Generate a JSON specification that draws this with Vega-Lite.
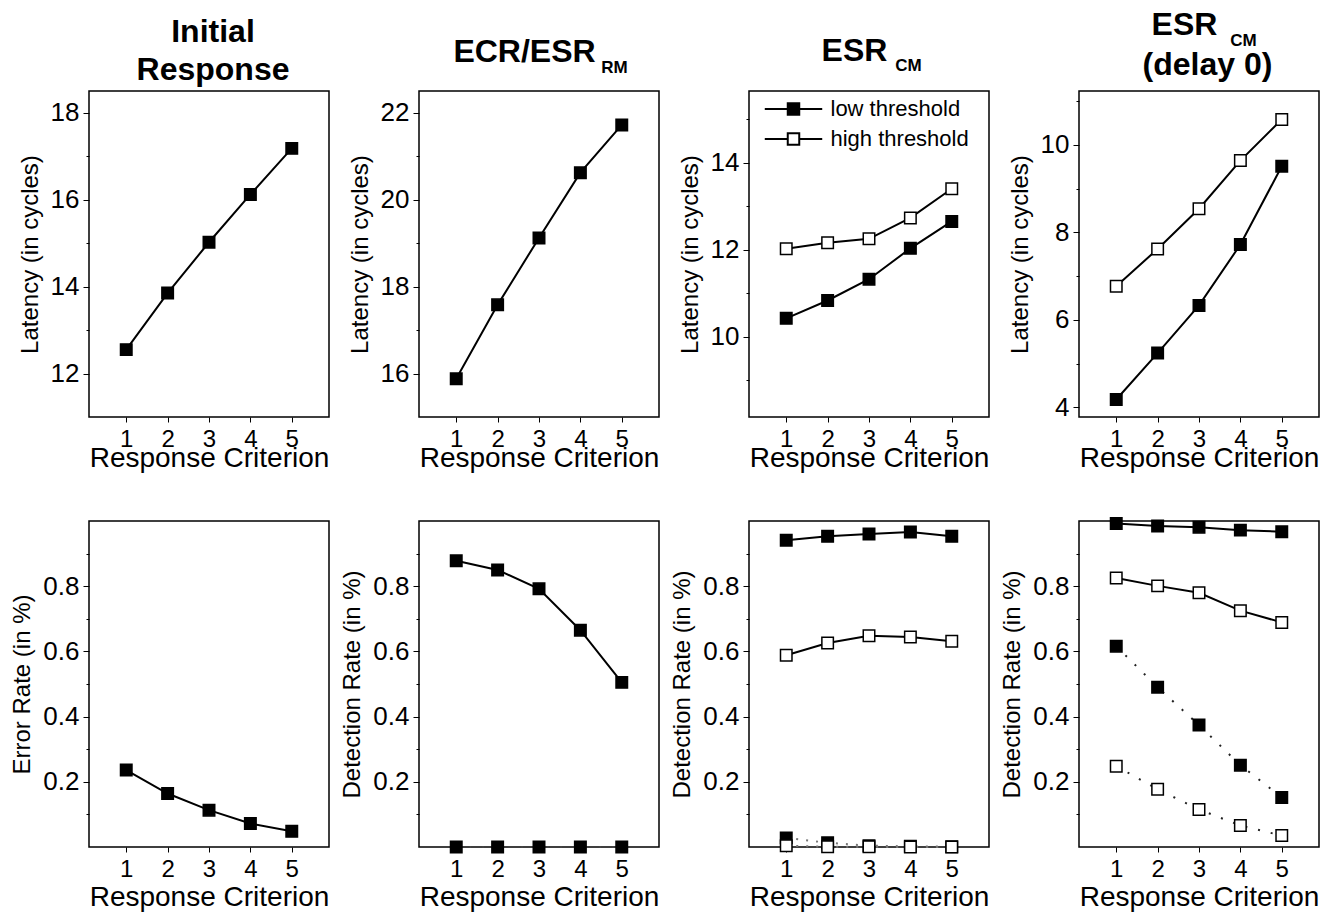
{
  "$schema": "https://vega.github.io/schema/vega-lite/v6.json",
  "background": "white",
  "padding": {"left": 10, "top": 8, "right": 5, "bottom": 5},
  "columns": 4,
  "bounds": "flush",
  "spacing": {"row": 104, "column": 90},
  "resolve": {"scale": {"fill": "independent"}, "legend": {"fill": "independent"}},
  "config": {
    "font": "Liberation Sans",
    "view": {"stroke": "black", "strokeWidth": 1.5},
    "axis": {"domain": false, "grid": false, "tickColor": "black", "tickWidth": 1, "labelColor": "black", "titleColor": "black", "labelFont": "Liberation Sans", "titleFont": "Liberation Sans", "titleFontWeight": "normal", "labelOverlap": false, "titleLimit": 400, "labelLimit": 200},
    "axisX": {"labelFontSize": 24, "titleFontSize": 28, "tickSize": 5, "labelPadding": 5, "labelAngle": 0, "labelFlush": false},
    "axisY": {"labelFontSize": 26, "titleFontSize": 24, "labelPadding": 4, "titlePadding": 8},
    "title": {"font": "Liberation Sans", "fontSize": 32, "fontWeight": "bold", "color": "black", "anchor": "middle", "frame": "group", "subtitleFont": "Liberation Sans", "subtitleFontSize": 17, "subtitleFontWeight": "bold", "subtitleColor": "black"}
  },
  "concat": [
    {
      "width": 240, "height": 326,
      "title": {"text": ["Initial", "Response"], "lineHeight": 38, "offset": 4, "dx": 4},
      "data": {"values": [
        {"crit": 1, "value": 12.55, "series": "low threshold", "kind": "latency"},
        {"crit": 2, "value": 13.85, "series": "low threshold", "kind": "latency"},
        {"crit": 3, "value": 15.02, "series": "low threshold", "kind": "latency"},
        {"crit": 4, "value": 16.12, "series": "low threshold", "kind": "latency"},
        {"crit": 5, "value": 17.18, "series": "low threshold", "kind": "latency"}
      ]},
      "encoding": {
        "x": {"field": "crit", "type": "quantitative", "scale": {"domain": [0.1, 5.9], "nice": false, "zero": false}, "axis": {"values": [1, 2, 3, 4, 5], "title": "Response Criterion", "titlePadding": -7}},
        "y": {"field": "value", "type": "quantitative", "scale": {"domain": [11, 18.5], "nice": false, "zero": false}, "axis": {"title": "Latency (in cycles)", "values": [12, 13, 14, 15, 16, 17, 18], "labelExpr": "datum.value % 2 == 0 ? datum.label : ''", "tickSize": {"condition": {"test": "datum.value % 2 == 0", "value": 6}, "value": 3}}}
      },
      "layer": [
        {"mark": {"type": "line", "color": "black", "strokeWidth": 2}, "encoding": {"detail": {"field": "series"}}},
        {"mark": {"type": "point", "shape": "square", "size": 132, "filled": true, "stroke": "black", "strokeWidth": 1.5, "opacity": 1}, "encoding": {"fill": {"field": "series", "type": "nominal", "scale": {"domain": ["low threshold", "high threshold"], "range": ["black", "white"]}, "legend": null}}},
        {"data": {"values": [{}]}, "mark": {"type": "text", "text": "A", "fontSize": 30, "fontWeight": "bold", "align": "left", "baseline": "alphabetic", "color": "black"}, "encoding": {"x": {"datum": 0.25, "type": "quantitative"}, "y": {"datum": 11.2, "type": "quantitative"}}}
      ]
    },
    {
      "width": 240, "height": 326,
      "title": {"text": "ECR/ESR", "subtitle": "\u2800\u2800\u2800\u2800\u2800\u2800\u2800\u2800\u2800\u2800\u2800\u2800\u2800\u2800\u2800RM", "subtitlePadding": -9, "offset": 14, "dx": -14.5},
      "data": {"values": [
        {"crit": 1, "value": 15.88, "series": "low threshold", "kind": "latency"},
        {"crit": 2, "value": 17.58, "series": "low threshold", "kind": "latency"},
        {"crit": 3, "value": 19.12, "series": "low threshold", "kind": "latency"},
        {"crit": 4, "value": 20.62, "series": "low threshold", "kind": "latency"},
        {"crit": 5, "value": 21.72, "series": "low threshold", "kind": "latency"}
      ]},
      "encoding": {
        "x": {"field": "crit", "type": "quantitative", "scale": {"domain": [0.1, 5.9], "nice": false, "zero": false}, "axis": {"values": [1, 2, 3, 4, 5], "title": "Response Criterion", "titlePadding": -7}},
        "y": {"field": "value", "type": "quantitative", "scale": {"domain": [15, 22.5], "nice": false, "zero": false}, "axis": {"title": "Latency (in cycles)", "values": [16, 17, 18, 19, 20, 21, 22], "labelExpr": "datum.value % 2 == 0 ? datum.label : ''", "tickSize": {"condition": {"test": "datum.value % 2 == 0", "value": 6}, "value": 3}}}
      },
      "layer": [
        {"mark": {"type": "line", "color": "black", "strokeWidth": 2}, "encoding": {"detail": {"field": "series"}}},
        {"mark": {"type": "point", "shape": "square", "size": 132, "filled": true, "stroke": "black", "strokeWidth": 1.5, "opacity": 1}, "encoding": {"fill": {"field": "series", "type": "nominal", "scale": {"domain": ["low threshold", "high threshold"], "range": ["black", "white"]}, "legend": null}}},
        {"data": {"values": [{}]}, "mark": {"type": "text", "text": "C", "fontSize": 30, "fontWeight": "bold", "align": "left", "baseline": "alphabetic", "color": "black"}, "encoding": {"x": {"datum": 0.197, "type": "quantitative"}, "y": {"datum": 15.2, "type": "quantitative"}}}
      ]
    },
    {
      "width": 240, "height": 326,
      "title": {"text": "ESR", "subtitle": "\u2800\u2800\u2800\u2800\u2800\u2800\u2800\u2800\u2800CM", "subtitlePadding": -9.5, "offset": 16, "dx": -14.5},
      "data": {"values": [
        {"crit": 1, "value": 10.42, "series": "low threshold", "kind": "latency"},
        {"crit": 2, "value": 10.83, "series": "low threshold", "kind": "latency"},
        {"crit": 3, "value": 11.32, "series": "low threshold", "kind": "latency"},
        {"crit": 4, "value": 12.03, "series": "low threshold", "kind": "latency"},
        {"crit": 5, "value": 12.65, "series": "low threshold", "kind": "latency"},
        {"crit": 1, "value": 12.02, "series": "high threshold", "kind": "latency"},
        {"crit": 2, "value": 12.16, "series": "high threshold", "kind": "latency"},
        {"crit": 3, "value": 12.25, "series": "high threshold", "kind": "latency"},
        {"crit": 4, "value": 12.73, "series": "high threshold", "kind": "latency"},
        {"crit": 5, "value": 13.40, "series": "high threshold", "kind": "latency"}
      ]},
      "encoding": {
        "x": {"field": "crit", "type": "quantitative", "scale": {"domain": [0.1, 5.9], "nice": false, "zero": false}, "axis": {"values": [1, 2, 3, 4, 5], "title": "Response Criterion", "titlePadding": -7}},
        "y": {"field": "value", "type": "quantitative", "scale": {"domain": [8.15, 15.65], "nice": false, "zero": false}, "axis": {"title": "Latency (in cycles)", "values": [9, 10, 11, 12, 13, 14, 15], "labelExpr": "datum.value % 2 == 0 ? datum.label : ''", "tickSize": {"condition": {"test": "datum.value % 2 == 0", "value": 6}, "value": 3}}}
      },
      "layer": [
        {"mark": {"type": "line", "color": "black", "strokeWidth": 2}, "encoding": {"detail": {"field": "series"}}},
        {"mark": {"type": "point", "shape": "square", "size": 132, "filled": true, "stroke": "black", "strokeWidth": 1.5, "opacity": 1}, "encoding": {"fill": {"field": "series", "type": "nominal", "scale": {"domain": ["low threshold", "high threshold"], "range": ["black", "white"]}, "legend": {"title": null, "orient": "top-left", "offset": 0, "padding": 7, "symbolType": "M-5,0H-1M1,0H5M-1,-1H1V1H-1Z", "symbolSize": 132, "symbolStrokeColor": "black", "symbolStrokeWidth": 2, "symbolOffset": 26.5, "labelOffset": 26, "labelFontSize": 22, "labelFont": "Liberation Sans", "labelColor": "black", "rowPadding": 8, "labelLimit": 400}}}},
        {"data": {"values": [{}]}, "mark": {"type": "text", "text": "E", "fontSize": 30, "fontWeight": "bold", "align": "left", "baseline": "alphabetic", "color": "black"}, "encoding": {"x": {"datum": 0.27, "type": "quantitative"}, "y": {"datum": 8.35, "type": "quantitative"}}}
      ]
    },
    {
      "width": 240, "height": 326,
      "title": {"text": ["ESR\u2800\u2800", "(delay 0)"], "lineHeight": 40, "subtitle": "\u2800\u2800\u2800\u2800\u2800\u2800CM", "subtitlePadding": -49.4, "offset": 6, "dx": 8.5},
      "data": {"values": [
        {"crit": 1, "value": 4.18, "series": "low threshold", "kind": "latency"},
        {"crit": 2, "value": 5.24, "series": "low threshold", "kind": "latency"},
        {"crit": 3, "value": 6.33, "series": "low threshold", "kind": "latency"},
        {"crit": 4, "value": 7.72, "series": "low threshold", "kind": "latency"},
        {"crit": 5, "value": 9.51, "series": "low threshold", "kind": "latency"},
        {"crit": 1, "value": 6.77, "series": "high threshold", "kind": "latency"},
        {"crit": 2, "value": 7.62, "series": "high threshold", "kind": "latency"},
        {"crit": 3, "value": 8.54, "series": "high threshold", "kind": "latency"},
        {"crit": 4, "value": 9.64, "series": "high threshold", "kind": "latency"},
        {"crit": 5, "value": 10.58, "series": "high threshold", "kind": "latency"}
      ]},
      "encoding": {
        "x": {"field": "crit", "type": "quantitative", "scale": {"domain": [0.1, 5.9], "nice": false, "zero": false}, "axis": {"values": [1, 2, 3, 4, 5], "title": "Response Criterion", "titlePadding": -7}},
        "y": {"field": "value", "type": "quantitative", "scale": {"domain": [3.78, 11.23], "nice": false, "zero": false}, "axis": {"title": "Latency (in cycles)", "values": [4, 5, 6, 7, 8, 9, 10, 11], "labelExpr": "datum.value % 2 == 0 ? datum.label : ''", "tickSize": {"condition": {"test": "datum.value % 2 == 0", "value": 6}, "value": 3}}}
      },
      "layer": [
        {"mark": {"type": "line", "color": "black", "strokeWidth": 2}, "encoding": {"detail": {"field": "series"}}},
        {"mark": {"type": "point", "shape": "square", "size": 132, "filled": true, "stroke": "black", "strokeWidth": 1.5, "opacity": 1}, "encoding": {"fill": {"field": "series", "type": "nominal", "scale": {"domain": ["low threshold", "high threshold"], "range": ["black", "white"]}, "legend": null}}},
        {"data": {"values": [{}]}, "mark": {"type": "text", "text": "G", "fontSize": 30, "fontWeight": "bold", "align": "left", "baseline": "alphabetic", "color": "black"}, "encoding": {"x": {"datum": 0.18, "type": "quantitative"}, "y": {"datum": 4.01, "type": "quantitative"}}}
      ]
    },
    {
      "width": 240, "height": 326,
      "data": {"values": [
        {"crit": 1, "value": 0.236, "series": "low threshold", "kind": "error"},
        {"crit": 2, "value": 0.164, "series": "low threshold", "kind": "error"},
        {"crit": 3, "value": 0.113, "series": "low threshold", "kind": "error"},
        {"crit": 4, "value": 0.072, "series": "low threshold", "kind": "error"},
        {"crit": 5, "value": 0.048, "series": "low threshold", "kind": "error"}
      ]},
      "encoding": {
        "x": {"field": "crit", "type": "quantitative", "scale": {"domain": [0.1, 5.9], "nice": false, "zero": false}, "axis": {"values": [1, 2, 3, 4, 5], "title": "Response Criterion", "titlePadding": 2}},
        "y": {"field": "value", "type": "quantitative", "scale": {"domain": [0, 1], "nice": false, "zero": false}, "axis": {"title": "Error Rate (in %)", "values": [0.1, 0.2, 0.3, 0.4, 0.5, 0.6, 0.7, 0.8, 0.9], "labelExpr": "round(datum.value * 10) % 2 == 0 ? datum.label : ''", "tickSize": {"condition": {"test": "round(datum.value * 10) % 2 == 0", "value": 6}, "value": 3}}}
      },
      "layer": [
        {"mark": {"type": "line", "color": "black", "strokeWidth": 2}, "encoding": {"detail": {"field": "series"}}},
        {"mark": {"type": "point", "shape": "square", "size": 132, "filled": true, "stroke": "black", "strokeWidth": 1.5, "opacity": 1}, "encoding": {"fill": {"field": "series", "type": "nominal", "scale": {"domain": ["low threshold", "high threshold"], "range": ["black", "white"]}, "legend": null}}},
        {"data": {"values": [{}]}, "mark": {"type": "text", "text": "B", "fontSize": 30, "fontWeight": "bold", "align": "left", "baseline": "alphabetic", "color": "black"}, "encoding": {"x": {"datum": 0.25, "type": "quantitative"}, "y": {"datum": 0.027, "type": "quantitative"}}}
      ]
    },
    {
      "width": 240, "height": 326,
      "data": {"values": [
        {"crit": 1, "value": 0.878, "series": "low threshold", "kind": "hits"},
        {"crit": 2, "value": 0.850, "series": "low threshold", "kind": "hits"},
        {"crit": 3, "value": 0.792, "series": "low threshold", "kind": "hits"},
        {"crit": 4, "value": 0.665, "series": "low threshold", "kind": "hits"},
        {"crit": 5, "value": 0.505, "series": "low threshold", "kind": "hits"},
        {"crit": 1, "value": 0.0, "series": "low threshold", "kind": "FA"},
        {"crit": 2, "value": 0.0, "series": "low threshold", "kind": "FA"},
        {"crit": 3, "value": 0.0, "series": "low threshold", "kind": "FA"},
        {"crit": 4, "value": 0.0, "series": "low threshold", "kind": "FA"},
        {"crit": 5, "value": 0.0, "series": "low threshold", "kind": "FA"}
      ]},
      "encoding": {
        "x": {"field": "crit", "type": "quantitative", "scale": {"domain": [0.1, 5.9], "nice": false, "zero": false}, "axis": {"values": [1, 2, 3, 4, 5], "title": "Response Criterion", "titlePadding": 2}},
        "y": {"field": "value", "type": "quantitative", "scale": {"domain": [0, 1], "nice": false, "zero": false}, "axis": {"title": "Detection Rate (in %)", "values": [0.1, 0.2, 0.3, 0.4, 0.5, 0.6, 0.7, 0.8, 0.9], "labelExpr": "round(datum.value * 10) % 2 == 0 ? datum.label : ''", "tickSize": {"condition": {"test": "round(datum.value * 10) % 2 == 0", "value": 6}, "value": 3}}}
      },
      "layer": [
        {"transform": [{"filter": "datum.kind == 'hits'"}], "mark": {"type": "line", "color": "black", "strokeWidth": 2}, "encoding": {"detail": {"field": "series"}}},
        {"transform": [{"filter": "datum.kind == 'FA'"}], "mark": {"type": "line", "color": "#444444", "strokeWidth": 2, "strokeDash": [2, 11]}, "encoding": {"detail": {"field": "series"}}},
        {"mark": {"type": "point", "shape": "square", "size": 132, "filled": true, "stroke": "black", "strokeWidth": 1.5, "opacity": 1}, "encoding": {"fill": {"field": "series", "type": "nominal", "scale": {"domain": ["low threshold", "high threshold"], "range": ["black", "white"]}, "legend": null}}},
        {"data": {"values": [{}]}, "mark": {"type": "text", "text": "D", "fontSize": 30, "fontWeight": "bold", "align": "left", "baseline": "alphabetic", "color": "black"}, "encoding": {"x": {"datum": 0.276, "type": "quantitative"}, "y": {"datum": 0.027, "type": "quantitative"}}},
        {"data": {"values": [{}]}, "mark": {"type": "text", "text": "hits", "fontSize": 27, "align": "left", "baseline": "alphabetic", "color": "black"}, "encoding": {"x": {"datum": 4.28, "type": "quantitative"}, "y": {"datum": 0.819, "type": "quantitative"}}},
        {"data": {"values": [{}]}, "mark": {"type": "text", "text": "FA", "fontSize": 27, "align": "left", "baseline": "alphabetic", "color": "black"}, "encoding": {"x": {"datum": 1.40, "type": "quantitative"}, "y": {"datum": 0.062, "type": "quantitative"}}}
      ]
    },
    {
      "width": 240, "height": 326,
      "data": {"values": [
        {"crit": 1, "value": 0.941, "series": "low threshold", "kind": "hits"},
        {"crit": 2, "value": 0.953, "series": "low threshold", "kind": "hits"},
        {"crit": 3, "value": 0.960, "series": "low threshold", "kind": "hits"},
        {"crit": 4, "value": 0.966, "series": "low threshold", "kind": "hits"},
        {"crit": 5, "value": 0.953, "series": "low threshold", "kind": "hits"},
        {"crit": 1, "value": 0.028, "series": "low threshold", "kind": "FA"},
        {"crit": 2, "value": 0.013, "series": "low threshold", "kind": "FA"},
        {"crit": 3, "value": 0.004, "series": "low threshold", "kind": "FA"},
        {"crit": 4, "value": 0.002, "series": "low threshold", "kind": "FA"},
        {"crit": 5, "value": 0.001, "series": "low threshold", "kind": "FA"},
        {"crit": 1, "value": 0.588, "series": "high threshold", "kind": "hits"},
        {"crit": 2, "value": 0.626, "series": "high threshold", "kind": "hits"},
        {"crit": 3, "value": 0.648, "series": "high threshold", "kind": "hits"},
        {"crit": 4, "value": 0.644, "series": "high threshold", "kind": "hits"},
        {"crit": 5, "value": 0.631, "series": "high threshold", "kind": "hits"},
        {"crit": 1, "value": 0.004, "series": "high threshold", "kind": "FA"},
        {"crit": 2, "value": 0.001, "series": "high threshold", "kind": "FA"},
        {"crit": 3, "value": 0.0005, "series": "high threshold", "kind": "FA"},
        {"crit": 4, "value": 0.0, "series": "high threshold", "kind": "FA"},
        {"crit": 5, "value": 0.0, "series": "high threshold", "kind": "FA"}
      ]},
      "encoding": {
        "x": {"field": "crit", "type": "quantitative", "scale": {"domain": [0.1, 5.9], "nice": false, "zero": false}, "axis": {"values": [1, 2, 3, 4, 5], "title": "Response Criterion", "titlePadding": 2}},
        "y": {"field": "value", "type": "quantitative", "scale": {"domain": [0, 1], "nice": false, "zero": false}, "axis": {"title": "Detection Rate (in %)", "values": [0.1, 0.2, 0.3, 0.4, 0.5, 0.6, 0.7, 0.8, 0.9], "labelExpr": "round(datum.value * 10) % 2 == 0 ? datum.label : ''", "tickSize": {"condition": {"test": "round(datum.value * 10) % 2 == 0", "value": 6}, "value": 3}}}
      },
      "layer": [
        {"transform": [{"filter": "datum.kind == 'hits'"}], "mark": {"type": "line", "color": "black", "strokeWidth": 2}, "encoding": {"detail": {"field": "series"}}},
        {"transform": [{"filter": "datum.kind == 'FA'"}], "mark": {"type": "line", "color": "#777777", "strokeWidth": 2, "strokeDash": [2, 8]}, "encoding": {"detail": {"field": "series"}}},
        {"mark": {"type": "point", "shape": "square", "size": 132, "filled": true, "stroke": "black", "strokeWidth": 1.5, "opacity": 1}, "encoding": {"fill": {"field": "series", "type": "nominal", "scale": {"domain": ["low threshold", "high threshold"], "range": ["black", "white"]}, "legend": null}}},
        {"data": {"values": [{}]}, "mark": {"type": "text", "text": "F", "fontSize": 30, "fontWeight": "bold", "align": "left", "baseline": "alphabetic", "color": "black"}, "encoding": {"x": {"datum": 0.26, "type": "quantitative"}, "y": {"datum": 0.037, "type": "quantitative"}}},
        {"data": {"values": [{}]}, "mark": {"type": "text", "text": "hits", "fontSize": 27, "align": "left", "baseline": "alphabetic", "color": "black"}, "encoding": {"x": {"datum": 3.97, "type": "quantitative"}, "y": {"datum": 0.794, "type": "quantitative"}}},
        {"data": {"values": [{}]}, "mark": {"type": "text", "text": "FA", "fontSize": 27, "align": "left", "baseline": "alphabetic", "color": "black"}, "encoding": {"x": {"datum": 1.43, "type": "quantitative"}, "y": {"datum": 0.088, "type": "quantitative"}}}
      ]
    },
    {
      "width": 240, "height": 326,
      "data": {"values": [
        {"crit": 1, "value": 0.992, "series": "low threshold", "kind": "hits"},
        {"crit": 2, "value": 0.985, "series": "low threshold", "kind": "hits"},
        {"crit": 3, "value": 0.981, "series": "low threshold", "kind": "hits"},
        {"crit": 4, "value": 0.972, "series": "low threshold", "kind": "hits"},
        {"crit": 5, "value": 0.967, "series": "low threshold", "kind": "hits"},
        {"crit": 1, "value": 0.616, "series": "low threshold", "kind": "FA"},
        {"crit": 2, "value": 0.490, "series": "low threshold", "kind": "FA"},
        {"crit": 3, "value": 0.374, "series": "low threshold", "kind": "FA"},
        {"crit": 4, "value": 0.251, "series": "low threshold", "kind": "FA"},
        {"crit": 5, "value": 0.152, "series": "low threshold", "kind": "FA"},
        {"crit": 1, "value": 0.825, "series": "high threshold", "kind": "hits"},
        {"crit": 2, "value": 0.801, "series": "high threshold", "kind": "hits"},
        {"crit": 3, "value": 0.780, "series": "high threshold", "kind": "hits"},
        {"crit": 4, "value": 0.725, "series": "high threshold", "kind": "hits"},
        {"crit": 5, "value": 0.689, "series": "high threshold", "kind": "hits"},
        {"crit": 1, "value": 0.248, "series": "high threshold", "kind": "FA"},
        {"crit": 2, "value": 0.177, "series": "high threshold", "kind": "FA"},
        {"crit": 3, "value": 0.115, "series": "high threshold", "kind": "FA"},
        {"crit": 4, "value": 0.066, "series": "high threshold", "kind": "FA"},
        {"crit": 5, "value": 0.035, "series": "high threshold", "kind": "FA"}
      ]},
      "encoding": {
        "x": {"field": "crit", "type": "quantitative", "scale": {"domain": [0.1, 5.9], "nice": false, "zero": false}, "axis": {"values": [1, 2, 3, 4, 5], "title": "Response Criterion", "titlePadding": 2}},
        "y": {"field": "value", "type": "quantitative", "scale": {"domain": [0, 1], "nice": false, "zero": false}, "axis": {"title": "Detection Rate (in %)", "values": [0.1, 0.2, 0.3, 0.4, 0.5, 0.6, 0.7, 0.8, 0.9], "labelExpr": "round(datum.value * 10) % 2 == 0 ? datum.label : ''", "tickSize": {"condition": {"test": "round(datum.value * 10) % 2 == 0", "value": 6}, "value": 3}}}
      },
      "layer": [
        {"transform": [{"filter": "datum.kind == 'hits'"}], "mark": {"type": "line", "color": "black", "strokeWidth": 2}, "encoding": {"detail": {"field": "series"}}},
        {"transform": [{"filter": "datum.kind == 'FA'"}], "mark": {"type": "line", "color": "#222222", "strokeWidth": 2, "strokeDash": [2, 11]}, "encoding": {"detail": {"field": "series"}}},
        {"mark": {"type": "point", "shape": "square", "size": 132, "filled": true, "stroke": "black", "strokeWidth": 1.5, "opacity": 1}, "encoding": {"fill": {"field": "series", "type": "nominal", "scale": {"domain": ["low threshold", "high threshold"], "range": ["black", "white"]}, "legend": null}}},
        {"data": {"values": [{}]}, "mark": {"type": "text", "text": "H", "fontSize": 30, "fontWeight": "bold", "align": "left", "baseline": "alphabetic", "color": "black"}, "encoding": {"x": {"datum": 0.22, "type": "quantitative"}, "y": {"datum": 0.027, "type": "quantitative"}}},
        {"data": {"values": [{}]}, "mark": {"type": "text", "text": "hits", "fontSize": 27, "align": "left", "baseline": "alphabetic", "color": "black"}, "encoding": {"x": {"datum": 4.09, "type": "quantitative"}, "y": {"datum": 0.809, "type": "quantitative"}}},
        {"data": {"values": [{}]}, "mark": {"type": "text", "text": "FA", "fontSize": 27, "align": "left", "baseline": "alphabetic", "color": "black"}, "encoding": {"x": {"datum": 1.45, "type": "quantitative"}, "y": {"datum": 0.292, "type": "quantitative"}}}
      ]
    }
  ]
}
